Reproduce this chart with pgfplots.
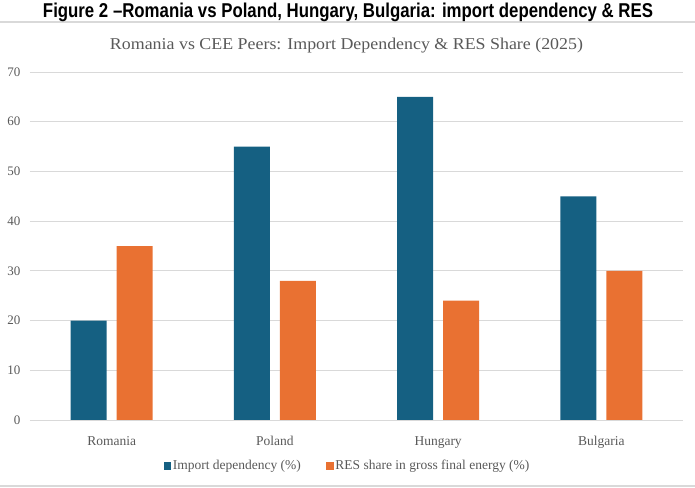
\documentclass[border=0pt]{standalone}
\usepackage{fontspec}
\usepackage{graphicx}
\usepackage{pgfplots}
\pgfplotsset{compat=1.18}
\setmainfont{Liberation Serif}
\newfontfamily\arialfont{Liberation Sans}
\definecolor{cblue}{HTML}{156082}
\definecolor{corange}{HTML}{E97132}
\definecolor{txtgray}{HTML}{595959}
\definecolor{gridgray}{HTML}{D9D9D9}
\begin{document}
\begin{tikzpicture}
\path[use as bounding box] (0,0) rectangle (695bp,488bp);
\draw[gridgray, line width=1.5bp] (0,466bp) -- (695bp,466bp);
\draw[gridgray, line width=1.5bp] (0,2bp) -- (695bp,2bp);
\node[anchor=base, inner sep=0] at (348bp,470.5bp) {\resizebox{610bp}{\height}{\arialfont\bfseries\fontsize{20bp}{24bp}\selectfont Figure 2 –Romania vs Poland, Hungary, Bulgaria: import dependency \& RES}};
\node[anchor=base, inner sep=0, text=txtgray] at (346.5bp,438.7bp) {\resizebox{473bp}{\height}{\fontsize{16.5bp}{20bp}\selectfont Romania vs CEE Peers: Import Dependency \& RES Share (2025)}};
\begin{axis}[
  at={(30bp,68bp)}, anchor=south west,
  scale only axis, width=653bp, height=348bp,
  ybar, bar width=36bp,
  xmin=-0.5, xmax=3.5, ymin=0, ymax=70,
  ytick={0,10,20,30,40,50,60,70},
  xtick={0,1,2,3},
  xticklabels={Romania,Poland,Hungary,Bulgaria},
  ymajorgrids, major grid style={gridgray, line width=1bp},
  axis line style={draw=none}, tick style={draw=none},
  /pgf/number format/assume math mode=true,
  ticklabel style={font=\fontsize{13bp}{15bp}\selectfont, text=txtgray},
  xticklabel style={font=\fontsize{13.5bp}{16bp}\selectfont, anchor=base, yshift=-21.5bp},
  yticklabel style={anchor=east, xshift=-6bp},
  legend columns=2,
  legend style={draw=none, fill=none, at={(0.486,-0.131)}, anchor=center,
    font=\fontsize{13.5bp}{16bp}\selectfont, text=txtgray,
    /tikz/every even column/.append style={column sep=24bp},
    nodes={inner sep=1.5bp}},
  legend image code/.code={\fill[#1, draw=none] (0bp,-4bp) rectangle (7.5bp,3.5bp);},
]
\addplot[fill=cblue, draw=none, bar shift=-23bp] coordinates {(0,20) (1,55) (2,65) (3,45)};
\addplot[fill=corange, draw=none, bar shift=23bp] coordinates {(0,35) (1,28) (2,24) (3,30)};
\legend{Import dependency (\%), RES share in gross final energy (\%)}
\end{axis}
\end{tikzpicture}
\end{document}
